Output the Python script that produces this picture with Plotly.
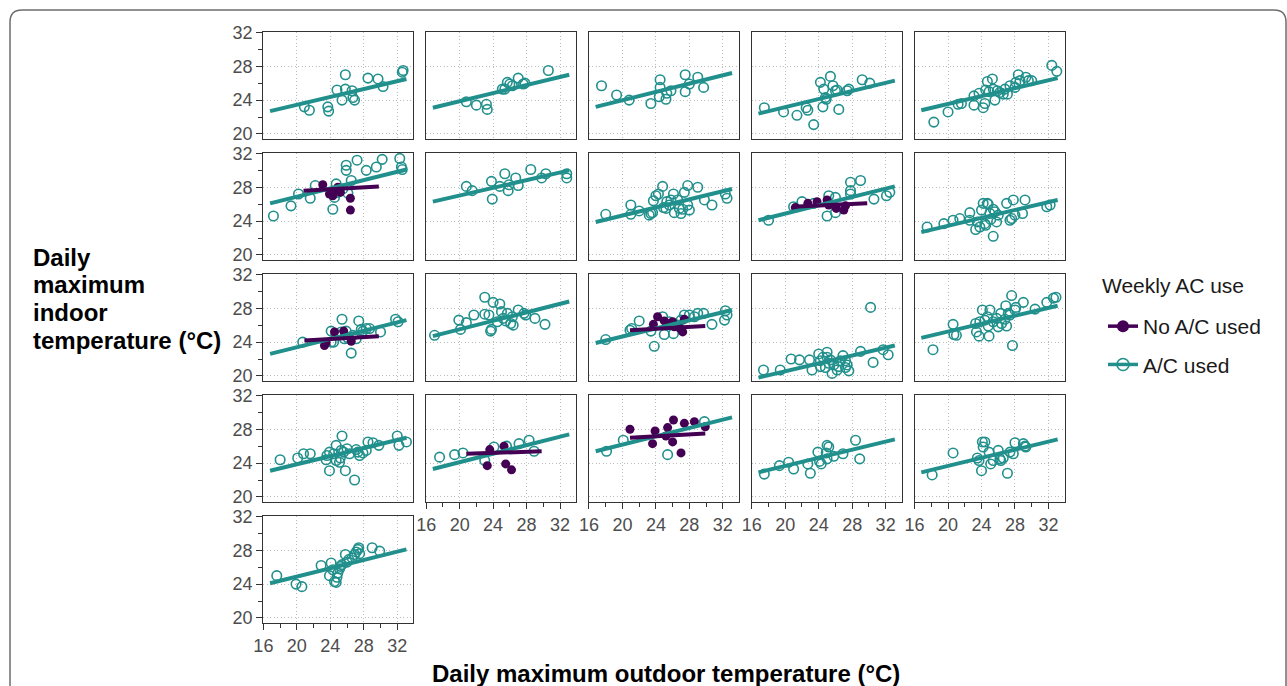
import plotly.graph_objects as go

W, H = 1287, 686
TEAL = "#21908C"
PURPLE = "#440154"
FONT = "Liberation Sans, Arial, sans-serif"

# ---------------- data ----------------
x_ticks = [16, 20, 24, 28, 32]
y_ticks = [20, 24, 28, 32]
x_minor = [18, 22, 26, 30]
y_minor = [22, 26, 30]

p01_x = [20.9, 21.5, 23.7, 23.8, 24.8, 25.4, 25.8, 25.8, 26.6, 26.7, 26.9, 28.5, 29.7, 30.3, 32.6, 32.7]
p01_y = [23.2, 22.8, 23.2, 22.7, 25.2, 24.0, 27.0, 25.3, 25.1, 24.3, 24.0, 26.6, 26.5, 25.6, 27.3, 27.5]
p02_x = [20.8, 22.0, 23.2, 23.3, 25.1, 25.4, 25.7, 26.0, 26.3, 27.0, 27.6, 27.8, 30.6]
p02_y = [23.8, 23.4, 23.5, 22.9, 25.3, 25.3, 26.1, 25.9, 25.7, 26.6, 25.9, 26.0, 27.5]
p03_x = [17.5, 19.3, 20.8, 23.4, 24.4, 24.5, 24.5, 25.2, 25.3, 25.8, 27.5, 27.5, 28.0, 29.0, 29.7]
p03_y = [25.7, 24.6, 24.0, 23.6, 24.4, 26.4, 25.5, 24.1, 24.8, 25.1, 25.0, 27.0, 25.9, 26.7, 25.5]
p04_x = [17.5, 19.8, 21.4, 22.5, 22.7, 23.4, 24.2, 24.5, 24.6, 24.8, 24.9, 25.4, 25.7, 26.0, 26.2, 26.4, 27.4, 27.6, 29.2, 30.1]
p04_y = [23.1, 22.6, 22.2, 23.1, 22.8, 21.1, 26.1, 23.2, 25.3, 24.3, 24.1, 26.8, 25.7, 25.1, 25.2, 22.9, 25.1, 25.3, 26.4, 26.0]
p05_x = [18.3, 20.0, 21.2, 21.6, 23.1, 23.1, 23.7, 24.2, 24.4, 24.5, 24.7, 24.9, 25.3, 25.4, 25.6, 25.9, 26.2, 26.6, 26.8, 27.1,
         27.4, 28.0, 28.1, 28.4, 28.6, 29.3, 29.6, 30.0, 32.4, 33.0]
p05_y = [21.4, 22.6, 23.5, 23.6, 23.4, 24.5, 24.8, 23.1, 23.6, 25.2, 26.2, 25.0, 26.5, 25.3, 24.0, 25.1, 24.9, 24.7, 25.3, 24.7,
         25.7, 25.5, 26.1, 27.0, 26.3, 26.7, 26.3, 26.3, 28.1, 27.4]
p06_x = [17.2, 19.3, 20.2, 21.6, 22.2, 24.3, 24.5, 24.7, 24.9, 25.5, 25.9, 25.9, 26.1, 26.5, 27.2, 28.3, 29.5, 30.2, 32.3, 32.5, 32.6]
p06_y = [24.6, 25.8, 27.2, 26.7, 28.2, 25.4, 26.8, 28.4, 27.4, 27.8, 30.6, 30.0, 27.3, 28.8, 31.2, 30.0, 30.4, 31.3, 31.4, 30.4, 30.1]
p06n_x = [23.1, 23.9, 24.3, 24.5, 24.9, 25.2, 26.4, 26.4]
p06n_y = [28.3, 27.2, 27.0, 27.6, 28.0, 27.4, 26.7, 25.3]
p07_x = [20.8, 21.5, 23.8, 23.9, 24.8, 25.4, 25.8, 25.9, 26.7, 27.0, 28.5, 29.8, 30.3, 32.8, 32.8]
p07_y = [28.1, 27.6, 28.7, 26.6, 28.1, 29.6, 27.6, 28.3, 29.1, 28.2, 30.1, 29.1, 29.6, 29.6, 29.1]
p08_x = [18.0, 21.0, 21.0, 22.0, 23.2, 23.4, 23.6, 23.7, 24.0, 24.3, 24.8, 24.9, 25.2, 25.3, 25.6, 25.8, 26.1, 26.2, 26.6, 26.8,
         27.0, 27.2, 27.4, 27.8, 27.8, 28.0, 29.0, 29.8, 30.7, 32.3, 32.5]
p08_y = [24.8, 25.9, 24.8, 25.2, 24.7, 24.9, 25.0, 26.4, 27.0, 27.2, 28.1, 25.6, 25.5, 26.3, 25.9, 26.5, 27.2, 25.0, 26.5, 25.5,
         24.9, 25.4, 27.4, 28.2, 25.9, 25.3, 28.0, 26.5, 25.9, 27.2, 26.7]
p09_x = [18.0, 21.0, 22.0, 23.4, 25.0, 25.2, 26.0, 26.0, 27.8, 27.8, 27.8, 29.0, 30.6, 32.1, 32.5]
p09_y = [24.1, 25.7, 26.3, 26.1, 24.6, 27.0, 25.0, 26.8, 28.6, 27.6, 27.2, 28.8, 26.6, 27.0, 27.4]
p09n_x = [21.2, 22.7, 23.8, 25.0, 25.2, 26.1, 27.0, 27.2]
p09n_y = [25.6, 26.1, 26.3, 26.5, 25.9, 25.5, 25.3, 25.8]
p10_x = [17.5, 19.5, 20.6, 21.4, 22.6, 22.6, 23.3, 23.5, 23.8, 24.0, 24.2, 24.4, 24.5, 24.7, 24.8, 25.0, 25.1, 25.4, 25.6, 25.8,
         26.0, 27.0, 27.4, 27.6, 27.8, 28.0, 28.9, 29.2, 25.4, 31.8, 32.2]
p10_y = [23.3, 23.7, 24.1, 24.3, 25.0, 24.1, 23.0, 23.9, 23.3, 25.3, 26.1, 23.7, 23.5, 26.1, 26.0, 24.9, 24.2, 25.4, 25.1, 23.9,
         24.7, 26.1, 24.1, 24.3, 26.5, 24.7, 24.9, 26.5, 22.2, 25.7, 25.9]
p11_x = [20.7, 24.1, 24.1, 24.4, 24.7, 25.3, 25.4, 25.7, 25.9, 26.1, 26.5, 26.7, 27.1, 27.4, 27.7, 27.9, 28.3, 28.7, 30.0, 31.8, 32.1]
p11_y = [24.0, 24.0, 25.3, 24.0, 24.9, 25.2, 26.7, 24.4, 25.3, 24.5, 22.7, 24.8, 24.4, 26.5, 25.5, 25.3, 25.6, 25.6, 25.2, 26.7, 26.4]
p11n_x = [23.3, 23.5, 24.5, 25.6, 26.5]
p11n_y = [23.6, 23.9, 25.2, 25.3, 24.1]
p12_x = [17.0, 19.9, 20.1, 20.8, 21.7, 23.0, 23.0, 23.5, 23.7, 24.0, 23.8, 24.5, 24.8, 25.0, 25.2, 25.5, 25.7, 26.1, 26.3, 27.0,
         27.7, 27.9, 29.0, 30.2, 26.4]
p12_y = [24.8, 26.6, 25.5, 26.3, 27.2, 29.3, 27.3, 27.2, 25.3, 28.7, 25.5, 26.4, 28.5, 27.6, 26.8, 26.5, 27.4, 26.2, 27.0, 27.8,
         27.4, 27.2, 26.8, 26.1, 26.0]
p13_x = [18.0, 20.9, 21.1, 22.0, 23.4, 23.8, 24.8, 25.0, 25.6, 25.8, 26.1, 26.6, 27.0, 28.0, 28.6, 29.0, 29.7, 30.7, 32.2, 32.3, 32.5, 27.4]
p13_y = [24.3, 25.4, 25.6, 26.5, 25.3, 23.5, 27.0, 24.9, 26.4, 26.1, 25.0, 26.0, 26.6, 27.2, 27.0, 27.4, 27.4, 26.1, 26.6, 27.7, 27.2, 27.2]
p13n_x = [23.7, 24.2, 25.0, 25.4, 26.0, 26.2, 26.9, 27.2, 27.4]
p13n_y = [26.1, 27.0, 26.5, 26.2, 26.4, 25.8, 25.6, 25.2, 26.7]
p14_x = [17.4, 19.4, 20.7, 21.7, 22.9, 23.2, 24.0, 24.2, 24.5, 24.8, 25.0, 25.2, 25.4, 25.6, 25.8, 26.2, 26.4, 26.6, 26.9, 27.2,
         27.2, 27.4, 27.6, 29.0, 30.2, 30.5, 31.7, 32.3, 24.2, 25.0]
p14_y = [20.7, 20.7, 22.0, 21.9, 21.9, 20.7, 22.6, 21.8, 22.2, 21.0, 22.8, 21.5, 21.9, 20.3, 21.3, 20.7, 21.1, 21.8, 22.4, 21.8,
         21.0, 21.3, 20.6, 22.9, 28.1, 21.6, 23.1, 22.5, 21.1, 22.2]
p15_x = [18.2, 20.6, 20.7, 21.0, 23.3, 23.4, 23.7, 23.8, 24.1, 24.4, 24.7, 24.8, 24.9, 25.0, 25.4, 25.8, 26.0, 26.3, 26.4, 26.8,
         26.9, 27.0, 27.2, 27.4, 27.6, 27.7, 28.0, 28.1, 29.0, 30.4, 31.8, 32.6, 32.9]
p15_y = [23.1, 26.1, 24.9, 24.8, 26.2, 25.2, 24.7, 26.4, 27.8, 26.6, 27.0, 25.9, 24.7, 27.8, 26.4, 26.8, 25.8, 27.4, 26.2, 26.7,
         28.3, 25.9, 27.4, 27.2, 29.5, 23.6, 27.8, 28.1, 28.7, 27.9, 28.7, 29.2, 29.3]
p16_x = [18.0, 20.1, 20.8, 21.6, 23.5, 23.6, 23.9, 23.9, 24.4, 24.7, 24.7, 25.1, 25.2, 25.3, 25.4, 25.6, 25.8, 26.0, 26.3, 26.9,
         27.1, 27.3, 27.5, 27.9, 28.3, 28.5, 29.1, 29.8, 32.0, 32.2, 33.1]
p16_y = [24.4, 24.6, 25.1, 25.1, 24.4, 24.9, 23.1, 25.3, 25.1, 26.1, 24.3, 24.1, 24.6, 25.5, 27.2, 25.3, 23.1, 25.7, 25.1, 22.0,
         25.6, 25.3, 24.9, 25.2, 25.5, 26.5, 26.4, 26.1, 27.2, 26.1, 26.5]
p17_x = [17.6, 19.4, 20.4, 23.0, 24.1, 25.6, 27.1, 28.3, 28.9]
p17_y = [24.7, 25.0, 25.2, 24.3, 25.9, 26.0, 26.3, 26.7, 25.4]
p17n_x = [23.6, 23.3, 25.3, 25.5, 26.2]
p17n_y = [25.6, 23.7, 26.0, 23.9, 23.2]
p18_x = [18.1, 20.1, 25.4, 29.8]
p18_y = [25.4, 26.7, 25.0, 28.9]
p18n_x = [20.9, 23.6, 23.9, 25.2, 25.4, 26.0, 26.1, 27.0, 27.4, 28.6, 29.9]
p18n_y = [28.0, 26.3, 27.8, 27.2, 28.2, 26.5, 29.1, 25.2, 28.7, 28.9, 28.3]
p19_x = [17.5, 19.3, 20.4, 21.0, 22.7, 23.0, 23.9, 24.1, 24.3, 25.0, 25.2, 24.9, 25.0, 25.8, 26.9, 28.4, 28.9]
p19_y = [22.7, 23.7, 24.1, 23.3, 23.9, 22.8, 25.3, 24.2, 23.9, 26.1, 25.9, 25.2, 24.5, 24.8, 25.1, 26.7, 24.5]
p20_x = [18.1, 20.6, 23.5, 24.0, 24.1, 24.2, 24.4, 24.9, 25.1, 25.4, 26.0, 26.2, 26.3, 26.6, 27.1, 27.4, 27.8, 28.0, 29.0, 29.2, 29.3, 23.7]
p20_y = [22.6, 25.2, 24.6, 23.1, 26.5, 25.9, 26.5, 25.3, 23.9, 24.3, 25.5, 24.5, 24.3, 24.6, 22.8, 25.3, 25.1, 26.4, 26.3, 26.0, 25.9, 24.3]
p21_x = [17.6, 19.9, 20.6, 22.9, 23.9, 24.1, 24.3, 24.5, 24.7, 24.8, 24.9, 25.1, 25.2, 25.4, 25.8, 26.0, 26.2, 26.6, 26.9, 27.1,
         27.3, 27.4, 27.5, 29.0, 29.9]
p21_y = [25.0, 24.0, 23.7, 26.2, 25.0, 26.5, 25.7, 24.3, 24.2, 24.8, 25.3, 25.8, 26.1, 26.3, 27.5, 26.6, 26.9, 27.1, 27.5, 27.8,
         28.1, 28.3, 27.6, 28.3, 27.9]

# fitted lines (A/C used): endpoints at the common x range
fit_x = [16.8, 33.1]
ac_fit_y0 = [22.7, 23.1, 23.2, 22.4, 22.8, 26.1, 26.3, 23.9, 24.1, 22.7, 22.6, 24.7, 23.9, 19.8, 24.5, 23.1, 23.3, 25.4, 22.9, 22.9, 24.1]
ac_fit_y1 = [26.5, 27.0, 27.2, 26.3, 26.6, 30.1, 30.0, 27.8, 28.1, 26.5, 26.6, 28.8, 27.8, 23.6, 28.3, 27.0, 27.4, 29.4, 26.8, 26.8, 28.1]

# fitted lines (No A/C used)
noac_panels = [6, 9, 11, 13, 17, 18]
noac_fit_x0 = [20.8, 20.9, 20.9, 20.9, 20.8, 20.9]
noac_fit_x1 = [29.8, 29.8, 29.8, 29.9, 29.8, 29.9]
noac_fit_y0 = [27.6, 25.7, 24.2, 25.4, 25.1, 27.0]
noac_fit_y1 = [28.1, 26.1, 24.7, 25.9, 25.4, 27.5]

ylabel_lines = ["Daily", "maximum", "indoor", "temperature (°C)"]
xlabel = "Daily maximum outdoor temperature (°C)"
legend_title = "Weekly AC use"
legend_names = ["No A/C used", "A/C used"]

ac_x = [p01_x, p02_x, p03_x, p04_x, p05_x, p06_x, p07_x, p08_x, p09_x, p10_x, p11_x,
        p12_x, p13_x, p14_x, p15_x, p16_x, p17_x, p18_x, p19_x, p20_x, p21_x]
ac_y = [p01_y, p02_y, p03_y, p04_y, p05_y, p06_y, p07_y, p08_y, p09_y, p10_y, p11_y,
        p12_y, p13_y, p14_y, p15_y, p16_y, p17_y, p18_y, p19_y, p20_y, p21_y]
noac_x = [p06n_x, p09n_x, p11n_x, p13n_x, p17n_x, p18n_x]
noac_y = [p06n_y, p09n_y, p11n_y, p13n_y, p17n_y, p18n_y]

# ---------------- layout geometry (pixels) ----------------
col_left = [263.3, 426.1, 588.9, 751.7, 914.5]
row_top = [32.0, 153.0, 274.0, 395.0, 516.0]
PW, PH = 150.0, 107.0
X_RANGE = [15.99, 33.92]
Y_RANGE = [19.4, 32.05]

fig = go.Figure()
layout_axes = {}

for i in range(21):
    r, c = divmod(i, 5)
    n = i + 1
    sfx = "" if n == 1 else str(n)
    xa, ya = "x" + sfx, "y" + sfx
    fig.add_trace(go.Scatter(
        x=ac_x[i], y=ac_y[i], mode="markers", xaxis=xa, yaxis=ya, showlegend=False,
        marker=dict(symbol="circle-open", size=9.5, color=TEAL, line=dict(width=1.6, color=TEAL)),
        hoverinfo="skip"))
    if n in noac_panels:
        k = noac_panels.index(n)
        fig.add_trace(go.Scatter(
            x=noac_x[k], y=noac_y[k], mode="markers", xaxis=xa, yaxis=ya, showlegend=False,
            marker=dict(symbol="circle", size=9, color=PURPLE, line=dict(width=0)),
            hoverinfo="skip"))
    fig.add_trace(go.Scatter(
        x=fit_x, y=[ac_fit_y0[i], ac_fit_y1[i]], mode="lines", xaxis=xa, yaxis=ya,
        showlegend=False, line=dict(color=TEAL, width=4), hoverinfo="skip"))
    if n in noac_panels:
        k = noac_panels.index(n)
        fig.add_trace(go.Scatter(
            x=[noac_fit_x0[k], noac_fit_x1[k]], y=[noac_fit_y0[k], noac_fit_y1[k]], mode="lines",
            xaxis=xa, yaxis=ya, showlegend=False, line=dict(color=PURPLE, width=4), hoverinfo="skip"))

    bottom = (r == 4) or (r == 3 and c > 0)
    left = (c == 0)
    x0 = col_left[c] / W
    x1 = (col_left[c] + PW) / W
    y1 = 1 - row_top[r] / H
    y0 = 1 - (row_top[r] + PH) / H
    common = dict(showline=True, mirror=True, linecolor="#333333", linewidth=1.3,
                  showgrid=True, gridcolor="#bdbdbd", griddash="1px,2.5px", gridwidth=1,
                  zeroline=False, tickcolor="#333333", tickwidth=1.2, automargin=False,
                  tickfont=dict(size=18, color="#4d4d4d", family=FONT))
    layout_axes["xaxis" + sfx] = dict(
        common, domain=[x0, x1], range=X_RANGE, anchor=ya, tickmode="array", tickvals=x_ticks,
        ticks="outside" if bottom else "", ticklen=6, showticklabels=bottom,
        minor=dict(tickmode="array", tickvals=x_minor, ticks="outside" if bottom else "",
                   ticklen=4, tickcolor="#333333", tickwidth=1.2, showgrid=False))
    layout_axes["yaxis" + sfx] = dict(
        common, domain=[y0, y1], range=Y_RANGE, anchor=xa, tickmode="array", tickvals=y_ticks,
        ticks="outside" if left else "", ticklen=6, showticklabels=left,
        minor=dict(tickmode="array", tickvals=y_minor, ticks="outside" if left else "",
                   ticklen=4, tickcolor="#333333", tickwidth=1.2, showgrid=False))

# legend entries
fig.add_trace(go.Scatter(x=[None], y=[None], mode="lines+markers", name=legend_names[0],
                         legendgroup="noac", legendrank=1,
                         line=dict(color=PURPLE, width=3.5),
                         marker=dict(symbol="circle", size=12, color=PURPLE)))
fig.add_trace(go.Scatter(x=[None], y=[None], mode="lines+markers", name=legend_names[1],
                         legendgroup="ac", legendrank=2,
                         line=dict(color=TEAL, width=3.5),
                         marker=dict(symbol="circle-open", size=12, color=TEAL, line=dict(width=1.6, color=TEAL))))


def px(x):
    return x / W


def py(y):
    return 1 - y / H


R = 12
frame = (f"M {px(10)},{py(H + 5)} L {px(10)},{py(10 + R)} Q {px(10)},{py(10)} {px(10 + R)},{py(10)} "
         f"L {px(1286 - R)},{py(10)} Q {px(1286)},{py(10)} {px(1286)},{py(10 + R)} L {px(1286)},{py(H + 5)}")

annotations = []
for j, (txt, yc) in enumerate(zip(ylabel_lines, [257, 284, 312, 340])):
    annotations.append(dict(text=f"<b>{txt}</b>", xref="paper", yref="paper", x=px(31), y=py(yc),
                            xanchor="left", yanchor="middle", showarrow=False,
                            font=dict(size=24, color="#000000", family=FONT)))
annotations.append(dict(text=f"<b>{xlabel}</b>", xref="paper", yref="paper",
                        x=px(666), y=py(673), xanchor="center", yanchor="middle", showarrow=False,
                        font=dict(size=24, color="#000000", family=FONT)))
annotations.append(dict(text=legend_title, xref="paper", yref="paper", x=px(1100), y=py(285),
                        xanchor="left", yanchor="middle", showarrow=False,
                        font=dict(size=21, color="#1a1a1a", family=FONT)))

fig.update_layout(
    width=W, height=H, margin=dict(l=0, r=0, t=0, b=0, autoexpand=False),
    paper_bgcolor="white", plot_bgcolor="white",
    font=dict(family=FONT, color="#000000"),
    showlegend=True,
    legend=dict(x=px(1103), y=py(306), xanchor="left", yanchor="top",
                font=dict(size=21, color="#1a1a1a"), tracegroupgap=8, itemwidth=30,
                bgcolor="rgba(0,0,0,0)", traceorder="grouped"),
    shapes=[dict(type="path", xref="paper", yref="paper", path=frame,
                 line=dict(color="#6e6e6e", width=1.5), layer="above")],
    annotations=annotations,
    **layout_axes,
)

fig.write_html("out.html")
